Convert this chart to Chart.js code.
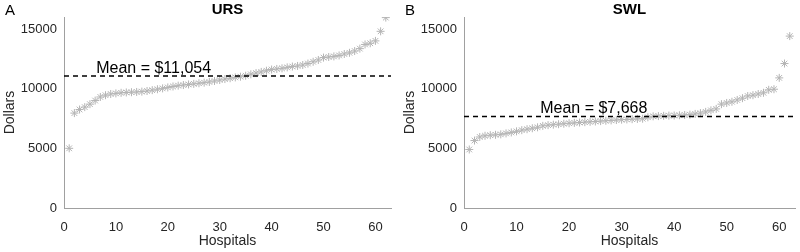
<!DOCTYPE html>
<html lang="en">
<head>
    <meta charset="UTF-8">
    <title>URS / SWL cost per hospital</title>
    <script src="https://cdn.jsdelivr.net/npm/chart.js"></script>
    <style>
        body { margin: 0; background: #fff; }
        .panel { position: absolute; top: 0; width: 400px; height: 252px; }
    </style>
</head>
<body>
    <div class="panel" style="left: 0;"><canvas id="ursChart"></canvas></div>
    <div class="panel" style="left: 400px;"><canvas id="swlChart"></canvas></div>

    <script>
        const hospitals = [1, 2, 3, 4, 5, 6, 7, 8, 9, 10, 11, 12, 13, 14, 15, 16, 17, 18, 19, 20,
            21, 22, 23, 24, 25, 26, 27, 28, 29, 30, 31, 32, 33, 34, 35, 36, 37, 38, 39, 40,
            41, 42, 43, 44, 45, 46, 47, 48, 49, 50, 51, 52, 53, 54, 55, 56, 57, 58, 59, 60, 61, 62];

        const ursCosts = [5000, 7950, 8250, 8450, 8700, 9000, 9300, 9450, 9550, 9600,
            9650, 9680, 9700, 9720, 9750, 9800, 9870, 9950, 10020, 10100,
            10180, 10250, 10300, 10350, 10400, 10450, 10500, 10560, 10640, 10720,
            10800, 10870, 10940, 11000, 11080, 11200, 11300, 11400, 11500, 11600,
            11650, 11700, 11780, 11850, 11900, 11980, 12100, 12250, 12400, 12600,
            12650, 12700, 12780, 12900, 13000, 13150, 13350, 13700, 13800, 14000, 14800, 15950];

        const swlCosts = [4900, 5650, 5950, 6050, 6100, 6130, 6170, 6250, 6330, 6420,
            6520, 6600, 6680, 6760, 6880, 6940, 6980, 7020, 7060, 7100,
            7130, 7160, 7190, 7220, 7250, 7280, 7310, 7340, 7370, 7400,
            7420, 7440, 7460, 7480, 7600, 7680, 7700, 7720, 7740, 7750,
            7770, 7790, 7820, 7880, 7950, 8050, 8180, 8300, 8700, 8800,
            8900, 9050, 9200, 9380, 9450, 9550, 9650, 9900, 9950, 10900, 12100, 14400];

        const ursMean = 11054;
        const swlMean = 7668;
        const xTicks = [0, 10, 20, 30, 40, 50, 60];
        const yTicks = [0, 5000, 10000, 15000];

        const axisGray = '#262626';
        const fontFamily = '"Liberation Sans", Arial, sans-serif';

        // draws panel letter, title and the mean label
        const annotations = {
            id: 'annotations',
            afterDraw(chart, args, opts) {
                const ctx = chart.ctx;
                const xs = chart.scales.x, ys = chart.scales.y;
                ctx.save();
                ctx.fillStyle = '#000';
                ctx.textBaseline = 'middle';
                ctx.font = '15px ' + fontFamily;
                ctx.textAlign = 'left';
                ctx.fillText(opts.letter, 5, 11);
                ctx.font = 'bold 15px ' + fontFamily;
                ctx.textAlign = 'center';
                ctx.fillText(opts.title, (chart.chartArea.left + chart.chartArea.right) / 2, 10);
                ctx.font = '16px ' + fontFamily;
                ctx.textAlign = 'left';
                ctx.textBaseline = 'alphabetic';
                ctx.fillText(opts.meanText, xs.getPixelForValue(opts.meanX), ys.getPixelForValue(opts.mean) - 3);
                ctx.restore();
            }
        };

        function makeChart(id, letter, title, costs, mean, meanText, meanX, rightPad) {
            const ctx = document.getElementById(id).getContext('2d');
            return new Chart(ctx, {
                type: 'scatter',
                data: {
                    datasets: [
                        {
                            label: title,
                            data: hospitals.map((h, i) => ({ x: h, y: costs[i] })),
                            pointStyle: 'star',
                            pointRadius: 4,
                            pointBorderColor: '#b4b4b4',
                            pointBackgroundColor: '#b4b4b4',
                            pointBorderWidth: 1,
                            order: 2
                        },
                        {
                            label: 'Mean',
                            type: 'line',
                            data: [{ x: 0, y: mean }, { x: 63, y: mean }],
                            borderColor: '#000',
                            borderWidth: 1.5,
                            borderDash: [5, 4],
                            pointRadius: 0,
                            order: 1
                        }
                    ]
                },
                options: {
                    responsive: true,
                    maintainAspectRatio: false,
                    animation: false,
                    layout: { padding: { left: 0, top: 17, right: rightPad, bottom: 0 } },
                    plugins: {
                        legend: { display: false },
                        tooltip: { enabled: false },
                        annotations: { letter: letter, title: title, mean: mean, meanText: meanText, meanX: meanX }
                    },
                    scales: {
                        x: {
                            type: 'linear',
                            min: 0,
                            max: 63,
                            afterBuildTicks: s => { s.ticks = xTicks.map(v => ({ value: v })); },
                            afterFit: s => { s.height = 44; },
                            grid: { display: false, drawTicks: false },
                            border: { display: true, color: '#a0a0a0', width: 1 },
                            ticks: { color: axisGray, font: { size: 13, family: fontFamily }, padding: 12, maxRotation: 0,
                                callback: v => String(v) },
                            title: { display: true, text: 'Hospitals', color: axisGray, font: { size: 14, family: fontFamily }, padding: 2 }
                        },
                        y: {
                            min: 0,
                            max: 16000,
                            afterBuildTicks: s => { s.ticks = yTicks.map(v => ({ value: v })); },
                            afterFit: s => { s.width = 64; },
                            grid: { display: false, drawTicks: false },
                            border: { display: true, color: '#a0a0a0', width: 1 },
                            ticks: { color: axisGray, font: { size: 13, family: fontFamily }, padding: 7,
                                callback: v => String(v) },
                            title: { display: true, text: 'Dollars', color: axisGray, font: { size: 14, family: fontFamily }, padding: 2 }
                        }
                    }
                },
                plugins: [annotations]
            });
        }

        makeChart('ursChart', 'A', 'URS', ursCosts, ursMean, 'Mean = $11,054', 6.2, 9);
        makeChart('swlChart', 'B', 'SWL', swlCosts, swlMean, 'Mean = $7,668', 14.5, 1);
    </script>
</body>
</html>
